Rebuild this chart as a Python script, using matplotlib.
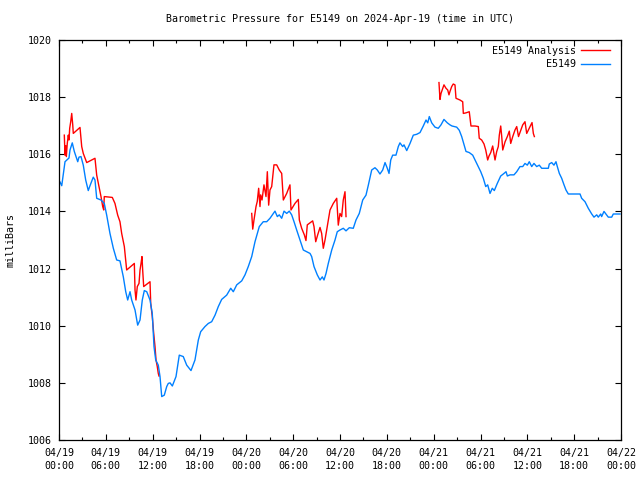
import numpy as np
import matplotlib
matplotlib.use("Agg")
import matplotlib.pyplot as plt
from matplotlib.ticker import MultipleLocator

# hours since 2024-04-19 00:00 UTC
obs_hours = [0.13, 0.35, 0.77, 1.28, 1.41, 1.70, 1.96, 2.40, 2.56, 2.82, 3.11, 3.42, 3.75, 3.97,
             4.39, 4.61, 4.83, 5.38, 5.80, 6.11, 6.53, 6.96, 7.39, 7.81, 8.24, 8.55, 8.80, 9.10,
             9.31, 9.74, 10.08, 10.38, 10.67, 10.93, 11.24, 11.66, 11.95, 12.17, 12.39, 12.72,
             12.94, 13.16, 13.49, 13.80, 14.00, 14.22, 14.52, 14.99, 15.41, 15.92, 16.36, 16.91,
             17.42, 17.85, 18.15, 18.70, 19.13, 19.56, 19.99, 20.41, 20.84, 21.48, 22.00, 22.33,
             22.77, 23.41, 23.83, 24.25, 24.69, 25.11, 25.66, 26.17, 26.61, 27.03, 27.33, 27.67,
             27.97, 28.22, 28.53, 28.83, 29.17, 29.50, 29.81, 30.11, 30.45, 30.88, 31.30, 31.73,
             32.16, 32.37, 32.67, 33.09, 33.44, 33.73, 33.95, 34.21, 34.50, 34.94, 35.36, 35.65,
             36.00, 36.42, 36.77, 37.19, 37.70, 38.05, 38.47, 38.91, 39.33, 39.63, 40.06, 40.48,
             40.78, 41.12, 41.47, 41.77, 42.06, 42.28, 42.50, 42.75, 43.17, 43.47, 43.68, 44.03,
             44.20, 44.55, 44.97, 45.39, 45.83, 46.25, 46.67, 47.02, 47.24, 47.44, 47.75, 48.17,
             48.59, 48.94, 49.32, 49.75, 50.09, 50.35, 50.95, 51.28, 51.59, 51.89, 52.14, 52.56,
             53.00, 53.30, 53.72, 54.03, 54.36, 54.67, 54.92, 55.22, 55.51, 55.77, 56.15, 56.59,
             56.92, 57.27, 57.44, 57.78, 58.29, 58.64, 59.06, 59.41, 59.70, 60.00, 60.25, 60.56,
             60.85, 61.20, 61.53, 61.84, 62.69, 62.81, 63.12, 63.41, 63.67, 63.84, 64.10, 64.40,
             64.70, 64.95, 65.25, 66.75, 66.96, 67.39, 67.81, 68.25, 68.54, 68.89, 69.09, 69.40,
             69.52, 69.82, 70.16, 70.37, 70.81, 71.01, 71.87]
obs_mb = [1015.03, 1014.90, 1015.74, 1015.87, 1016.15, 1016.40, 1016.10, 1015.74, 1015.90, 1015.92,
          1015.62, 1015.10, 1014.73, 1014.90, 1015.20, 1015.10, 1014.46, 1014.40, 1014.28, 1013.87,
          1013.23, 1012.71, 1012.30, 1012.27, 1011.71, 1011.19, 1010.90, 1011.19, 1010.90, 1010.55,
          1010.02, 1010.20, 1010.90, 1011.23, 1011.19, 1010.90, 1010.43, 1009.27, 1008.80, 1008.62,
          1008.22, 1007.52, 1007.57, 1007.87, 1007.98, 1008.00, 1007.89, 1008.22, 1008.97, 1008.92,
          1008.62, 1008.43, 1008.80, 1009.50, 1009.79, 1009.97, 1010.08, 1010.14, 1010.37, 1010.67,
          1010.92, 1011.07, 1011.31, 1011.19, 1011.43, 1011.57, 1011.78, 1012.07, 1012.42, 1012.94,
          1013.47, 1013.64, 1013.64, 1013.76, 1013.88, 1014.01, 1013.82, 1013.88, 1013.76, 1014.01,
          1013.93, 1014.01, 1013.88, 1013.64, 1013.35, 1013.00, 1012.65, 1012.59, 1012.53, 1012.42,
          1012.07, 1011.78, 1011.60, 1011.71, 1011.60, 1011.83, 1012.18, 1012.65, 1013.00, 1013.29,
          1013.35, 1013.41, 1013.32, 1013.43, 1013.41, 1013.70, 1013.93, 1014.40, 1014.57, 1014.92,
          1015.45, 1015.53, 1015.45, 1015.31, 1015.45, 1015.71, 1015.51, 1015.33, 1015.80, 1015.97,
          1015.97, 1016.27, 1016.40, 1016.27, 1016.33, 1016.13, 1016.38, 1016.67, 1016.70, 1016.76,
          1016.99, 1017.20, 1017.10, 1017.32, 1017.10, 1016.95, 1016.91, 1017.03, 1017.22, 1017.10,
          1017.03, 1016.99, 1016.95, 1016.84, 1016.62, 1016.33, 1016.10, 1016.06, 1015.97, 1015.80,
          1015.57, 1015.39, 1015.16, 1014.87, 1014.93, 1014.63, 1014.81, 1014.73, 1014.98, 1015.24,
          1015.31, 1015.39, 1015.24, 1015.28, 1015.28, 1015.39, 1015.57, 1015.57, 1015.68, 1015.62,
          1015.74, 1015.57, 1015.68, 1015.57, 1015.62, 1015.51, 1015.51, 1015.66, 1015.71, 1015.62,
          1015.74, 1015.57, 1015.33, 1015.16, 1014.93, 1014.75, 1014.61, 1014.61, 1014.46, 1014.34,
          1014.11, 1013.91, 1013.80, 1013.88, 1013.80, 1013.91, 1013.82, 1014.00, 1013.88, 1013.80,
          1013.80, 1013.91, 1013.91]

# analysis series, three separate runs (NaN breaks the line)
ana_hours = [0.68, 0.77, 0.86, 0.94, 1.06, 1.19, 1.28, 1.37, 1.50, 1.63, 1.76, 1.83, 2.69, 2.91,
             3.11, 3.55, 4.19, 4.61, 4.83, 5.12, 5.38, 5.60, 5.73, 5.80, 6.83, 7.17, 7.52, 7.81,
             8.03, 8.37, 8.55, 8.67, 9.65, 9.74, 9.86, 10.03, 10.25, 10.38, 10.51, 10.63, 10.72,
             10.85, 11.66, 11.75, 11.95, 12.13, 12.30, 12.43, 12.59, 12.72, 12.81,
             18.0,
             24.69, 24.82, 24.98, 25.24, 25.40, 25.58, 25.75, 25.84, 26.01, 26.26, 26.52, 26.69,
             26.86, 27.03, 27.25, 27.38, 27.54, 27.89, 28.22, 28.53, 28.74, 29.17, 29.59, 29.72,
             30.23, 30.66, 30.79, 31.09, 31.43, 31.64, 31.81, 32.16, 32.50, 32.67, 32.89, 33.14,
             33.44, 33.65, 33.86, 34.08, 34.37, 34.72, 35.14, 35.58, 35.78, 36.00, 36.21, 36.42,
             36.64, 36.77,
             42.0,
             48.68, 48.81, 48.94, 49.16, 49.32, 49.58, 49.80, 49.96, 50.09, 50.31, 50.51, 50.73,
             50.86, 51.37, 51.72, 51.80, 52.14, 52.56, 52.78, 53.30, 53.72, 53.84, 54.15, 54.45,
             54.67, 54.92, 55.09, 55.31, 55.56, 55.86, 56.07, 56.28, 56.41, 56.59, 56.72, 56.85,
             57.15, 57.44, 57.69, 57.87, 58.13, 58.42, 58.64, 58.87, 59.17, 59.41, 59.70, 59.92,
             60.35, 60.60, 60.77, 60.90]
ana_mb = [1016.67, 1015.97, 1016.30, 1015.92, 1016.38, 1016.67, 1016.50, 1016.91, 1017.14, 1017.43,
          1017.03, 1016.73, 1016.94, 1016.27, 1016.03, 1015.71, 1015.80, 1015.86, 1015.27, 1014.87,
          1014.52, 1014.17, 1014.05, 1014.52, 1014.49, 1014.28, 1013.87, 1013.64, 1013.23, 1012.77,
          1012.30, 1011.95, 1012.18, 1011.25, 1010.90, 1011.37, 1011.48, 1011.95, 1012.18, 1012.42,
          1011.95, 1011.37, 1011.54, 1010.78, 1010.32, 1009.74, 1009.27, 1008.80, 1008.57, 1008.33,
          1008.24,
          np.nan,
          1013.93, 1013.38, 1013.70, 1014.17, 1014.35, 1014.81, 1014.17, 1014.58, 1014.40, 1014.93,
          1014.52, 1015.39, 1014.22, 1014.75, 1014.87, 1015.22, 1015.63, 1015.63, 1015.45, 1015.33,
          1014.40, 1014.63, 1014.93, 1014.05, 1014.28, 1014.42, 1013.70, 1013.41, 1013.18, 1012.98,
          1013.53, 1013.60, 1013.67, 1013.47, 1012.94, 1013.18, 1013.44, 1013.23, 1012.71, 1013.00,
          1013.47, 1014.05, 1014.28, 1014.46, 1013.52, 1013.93, 1013.82, 1014.40, 1014.69, 1013.82,
          np.nan,
          1018.51, 1017.92, 1018.13, 1018.31, 1018.43, 1018.31, 1018.25, 1018.08, 1018.20, 1018.37,
          1018.46, 1018.43, 1017.96, 1017.90, 1017.84, 1017.43, 1017.45, 1017.49, 1016.99, 1016.99,
          1016.97, 1016.56, 1016.50, 1016.36, 1016.15, 1015.80, 1015.94, 1016.06, 1016.29, 1015.80,
          1016.09, 1016.27, 1016.67, 1016.99, 1016.62, 1016.15, 1016.44, 1016.62, 1016.81, 1016.38,
          1016.62, 1016.85, 1016.97, 1016.62, 1016.85, 1017.03, 1017.14, 1016.73, 1016.97, 1017.11,
          1016.73, 1016.62]

tick_hours = list(range(0, 73, 6))
tick_labels = ["04/19\n00:00", "04/19\n06:00", "04/19\n12:00", "04/19\n18:00",
               "04/20\n00:00", "04/20\n06:00", "04/20\n12:00", "04/20\n18:00",
               "04/21\n00:00", "04/21\n06:00", "04/21\n12:00", "04/21\n18:00",
               "04/22\n00:00"]

FS = 7.2
plt.rcParams['font.family'] = ['DejaVu Sans Mono']
plt.rcParams['font.size'] = FS

fig = plt.figure(figsize=(6.4, 4.8), dpi=100)
ax = fig.add_axes([59 / 640, 40 / 480, 562 / 640, 400 / 480])

ax.plot(ana_hours, ana_mb, color='#ff0000', linewidth=1.0, label='E5149 Analysis')
ax.plot(obs_hours, obs_mb, color='#0080ff', linewidth=1.0, label='E5149')

ax.set_xlim(0, 72)
ax.set_ylim(1006, 1020)
ax.set_xticks(tick_hours)
ax.set_xticklabels(tick_labels, linespacing=1.3)
ax.xaxis.set_minor_locator(MultipleLocator(3))
ax.set_yticks(np.arange(1006, 1021, 2))
ax.tick_params(which='both', direction='in', top=True, right=True, width=0.8)
ax.tick_params(which='major', length=4)
ax.tick_params(which='minor', length=2)
ax.tick_params(axis='x', which='major', pad=6)
ax.tick_params(axis='y', which='major', pad=5)
ax.tick_params(axis='y', which='minor', left=False, right=False)
for sp in ax.spines.values():
    sp.set_linewidth(0.9)

ax.set_ylabel('milliBars', labelpad=9, fontsize=FS)
ax.set_title('Barometric Pressure for E5149 on 2024-Apr-19 (time in UTC)', pad=13, fontsize=FS)
ax.legend(loc='upper right', bbox_to_anchor=(0.9875, 0.996), frameon=False, markerfirst=False,
          handlelength=2.9, handletextpad=0.5, labelspacing=0.35, borderaxespad=0.0,
          borderpad=0.4, fontsize=FS)

fig.savefig('out.png', dpi=100)
